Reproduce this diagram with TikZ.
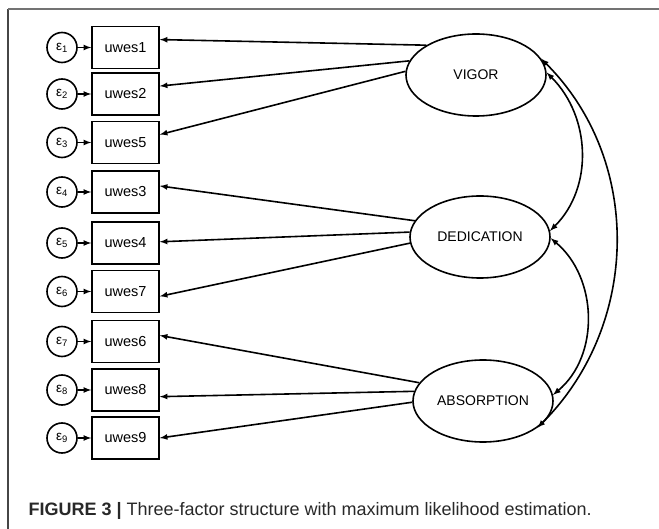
\documentclass[tikz,border=0pt]{standalone}
\usepackage{fontspec}
\setmainfont{Liberation Sans}
\usetikzlibrary{shapes.geometric}
\definecolor{framegray}{RGB}{115,115,115}
\definecolor{framedark}{RGB}{70,70,70}
\definecolor{captgray}{RGB}{40,40,40}

\begin{document}
\begin{tikzpicture}[yscale=-1
  ,pstyle0/.style={draw=black,line width=1.6pt,minimum width=67pt,minimum height=42pt,inner sep=0pt,font=\fontsize{14.5}{17}\selectfont}
  ,pstyle1/.style={draw=black,circle,line width=1.6pt,minimum size=30pt,inner sep=0pt,font=\fontsize{13.5}{16}\selectfont}
  ,pstyle2/.style={draw=black,ellipse,line width=1.6pt,minimum width=140pt,minimum height=82pt,inner sep=0pt,font=\fontsize{14}{17}\selectfont}
  ,pstyle3/.style={color=black,line width=1.6pt,-latex}
  ,pstyle4/.style={color=black,line width=1.6pt,latex-latex}
]

\useasboundingbox (0pt,0pt) rectangle (659pt,529pt);

% --- Frame ---
\draw[framedark,line width=1.5pt] (8pt,529pt) -- (8pt,9pt);
\draw[framegray,line width=1.5pt] (8pt,9pt) -- (659pt,9pt);

% --- Observed variables ---
\node[pstyle0] (u1) at (125.5pt,47.5pt) {uwes1};
\node[pstyle0] (u2) at (125.5pt,94pt) {uwes2};
\node[pstyle0] (u5) at (125.5pt,142.5pt) {uwes5};
\node[pstyle0] (u3) at (125.5pt,192pt) {uwes3};
\node[pstyle0] (u4) at (125.5pt,243pt) {uwes4};
\node[pstyle0] (u7) at (125.5pt,291.5pt) {uwes7};
\node[pstyle0] (u6) at (125.5pt,341.5pt) {uwes6};
\node[pstyle0] (u8) at (125.5pt,390pt) {uwes8};
\node[pstyle0] (u9) at (125.5pt,438pt) {uwes9};

% --- Error terms ---
\node[pstyle1] (e1) at (62pt,47.5pt) {ε\textsubscript{1}};
\node[pstyle1] (e2) at (62pt,94pt) {ε\textsubscript{2}};
\node[pstyle1] (e3) at (62pt,142.5pt) {ε\textsubscript{3}};
\node[pstyle1] (e4) at (62pt,192pt) {ε\textsubscript{4}};
\node[pstyle1] (e5) at (62pt,243pt) {ε\textsubscript{5}};
\node[pstyle1] (e6) at (62pt,291.5pt) {ε\textsubscript{6}};
\node[pstyle1] (e7) at (62pt,341.5pt) {ε\textsubscript{7}};
\node[pstyle1] (e8) at (62pt,390pt) {ε\textsubscript{8}};
\node[pstyle1] (e9) at (62pt,438pt) {ε\textsubscript{9}};

\draw[pstyle3] (e1) -- (u1);
\draw[pstyle3] (e2) -- (u2);
\draw[pstyle3] (e3) -- (u5);
\draw[pstyle3] (e4) -- (u3);
\draw[pstyle3] (e5) -- (u4);
\draw[pstyle3] (e6) -- (u7);
\draw[pstyle3] (e7) -- (u6);
\draw[pstyle3] (e8) -- (u8);
\draw[pstyle3] (e9) -- (u9);

% --- Latent factors ---
\node[pstyle2] (vigor) at (476pt,75pt) {VIGOR};
\node[pstyle2] (dedication) at (480pt,237pt) {DEDICATION};
\node[pstyle2] (absorption) at (483pt,401pt) {ABSORPTION};

% --- Loadings ---
\draw[pstyle3] (vigor.149) -- (u1.13);
\draw[pstyle3] (vigor.168) -- (u2.13);
\draw[pstyle3] (vigor.177) -- (u5.13);

\draw[pstyle3] (dedication.166) -- (u3.10);
\draw[pstyle3] (dedication.176) -- (u4.2);
\draw[pstyle3] (dedication.185) -- (u7.-8);

\draw[pstyle3] (absorption.164) -- (u6.10);
\draw[pstyle3] (absorption.172) -- (u8.-11);
\draw[pstyle3] (absorption.181) -- (u9.0);

% --- Covariances ---
\draw[pstyle4] (vigor.2) to[out=45,in=-45] (dedication.5);
\draw[pstyle4] (dedication.-1) to[out=40,in=-40] (absorption.5);
\draw[pstyle4] (vigor.14) to[out=45,in=-45] (absorption.-26);

% --- Caption ---
\node[anchor=base west,text=captgray,font=\fontsize{18}{20}\selectfont] (caption) at (25pt,515pt) {\textbf{FIGURE 3 |} Three-factor structure with maximum likelihood estimation.};

\end{tikzpicture}
\end{document}
